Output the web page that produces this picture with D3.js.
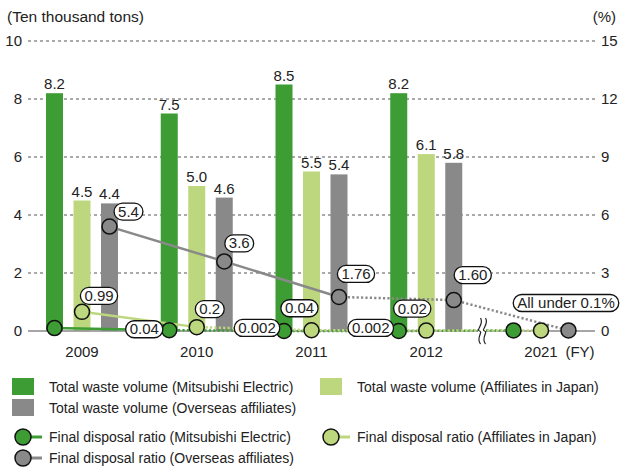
<!DOCTYPE html>
<html>
<head>
<meta charset="utf-8">
<script src="https://cdn.jsdelivr.net/npm/d3@7"></script>
<style>
  body { margin: 0; background: #fff; }
  svg text { font-family: "Liberation Sans", Arial, sans-serif; fill: #222; }
</style>
</head>
<body>
<svg id="chart" width="621" height="469"></svg>
<script>
// Fiscal years (2021 shown after an axis break, ratios only)
const years = ["2009", "2010", "2011", "2012", "2021"];
const barYears = ["2009", "2010", "2011", "2012"];

// Total waste volume (ten thousand tons)
const wasteME = [8.2, 7.5, 8.5, 8.2];
const wasteJP = [4.5, 5.0, 5.5, 6.1];
const wasteOS = [4.4, 4.6, 5.4, 5.8];

// Final disposal ratio (%)
const ratioME = [0.15, 0.04, 0.002, 0.002, 0.03];
const ratioJP = [0.99, 0.2, 0.04, 0.02, 0.03];
const ratioOS = [5.4, 3.6, 1.76, 1.60, 0.03];
const ratioLabelsME = [null, "0.04", "0.002", "0.002", null];
const ratioLabelsJP = ["0.99", "0.2", "0.04", "0.02", null];
const ratioLabelsOS = ["5.4", "3.6", "1.76", "1.60", null];

const leftTicks = [0, 2, 4, 6, 8, 10];
const rightTicks = [0, 3, 6, 9, 12, 15];

const C_ME = "#3d9c34", C_JP = "#bdd77e", C_OS = "#898989";

const svg = d3.select("#chart");
const x = d3.scalePoint().domain(years).range([82, 541]);
const yL = d3.scaleLinear().domain([0, 10]).range([331, 41]);
const yR = d3.scaleLinear().domain([0, 15]).range([331, 41]);
const off = { ME: -27.5, JP: 0, OS: 27.5 };
const barW = 17;
const plotL = 28, plotR = 597;

// Unit captions
svg.append("text").attr("x", 7).attr("y", 22).attr("font-size", 15.5).text("(Ten thousand tons)");
svg.append("text").attr("x", 616).attr("y", 22).attr("text-anchor", "end").attr("font-size", 15).text("(%)");

// Gridlines and tick labels
const grid = svg.append("g");
leftTicks.forEach((t, i) => {
  if (t !== 0) {
    grid.append("line").attr("x1", plotL).attr("x2", plotR)
      .attr("y1", yL(t)).attr("y2", yL(t))
      .attr("stroke", "#555").attr("stroke-width", 1).attr("stroke-dasharray", "3,3");
  }
  grid.append("text").attr("x", 22).attr("y", yL(t) + 5).attr("text-anchor", "end")
    .attr("font-size", 15).text(t);
  grid.append("text").attr("x", 601).attr("y", yR(rightTicks[i]) + 5)
    .attr("font-size", 15).text(rightTicks[i]);
});

// Bars
const series = [
  { key: "ME", vals: wasteME, color: C_ME },
  { key: "JP", vals: wasteJP, color: C_JP },
  { key: "OS", vals: wasteOS, color: C_OS }
];
series.forEach(s => {
  const g = svg.append("g");
  g.selectAll("rect").data(barYears).join("rect")
    .attr("x", (d) => x(d) + off[s.key] - barW / 2)
    .attr("y", (d, i) => yL(s.vals[i]))
    .attr("width", barW)
    .attr("height", (d, i) => yL(0) - yL(s.vals[i]))
    .attr("fill", s.color);
  g.selectAll("text").data(barYears).join("text")
    .attr("x", (d) => x(d) + off[s.key])
    .attr("y", (d, i) => yL(s.vals[i]) - 4)
    .attr("text-anchor", "middle").attr("font-size", 15)
    .text((d, i) => s.vals[i].toFixed(1));
});

// Zero baseline
svg.append("line").attr("x1", plotL).attr("x2", 595).attr("y1", yL(0)).attr("y2", yL(0))
  .attr("stroke", "#888").attr("stroke-width", 1.5);

// Ratio lines: solid for the earlier segments, dotted afterwards
function pt(key, vals, i) { return [x(years[i]) + off[key], yR(vals[i])]; }
function seg(key, vals, i0, i1, color, dotted, width) {
  const line = d3.line();
  const pts = d3.range(i0, i1 + 1).map(i => pt(key, vals, i));
  svg.append("path").attr("d", line(pts)).attr("fill", "none")
    .attr("stroke", color).attr("stroke-width", width)
    .attr("stroke-dasharray", dotted ? "2.2,2.2" : null);
}
seg("ME", ratioME, 0, 1, C_ME, false, 2.5);
seg("ME", ratioME, 1, 4, C_ME, true, 2.5);
seg("JP", ratioJP, 0, 1, C_JP, false, 2.5);
seg("JP", ratioJP, 1, 4, C_JP, true, 2.5);
seg("OS", ratioOS, 0, 2, C_OS, false, 2.5);
seg("OS", ratioOS, 2, 4, C_OS, true, 2.5);

// Axis break between 2012 and 2021
const bx = 482;
const brk = svg.append("g");
brk.append("rect").attr("x", bx - 4).attr("y", 318).attr("width", 8).attr("height", 26).attr("fill", "#fff");
[-2.5, 2.5].forEach(dx => {
  brk.append("path")
    .attr("d", `M${bx + dx + 1},318 C${bx + dx + 5},324 ${bx + dx - 4},330 ${bx + dx},331 C${bx + dx + 4},332 ${bx + dx - 4},338 ${bx + dx + 1},344`)
    .attr("fill", "none").attr("stroke", "#222").attr("stroke-width", 1.2);
});

// Points
const pointSeries = [
  { key: "ME", vals: ratioME, color: C_ME },
  { key: "JP", vals: ratioJP, color: C_JP },
  { key: "OS", vals: ratioOS, color: C_OS }
];
pointSeries.forEach(s => {
  svg.append("g").selectAll("circle").data(years).join("circle")
    .attr("cx", (d, i) => pt(s.key, s.vals, i)[0])
    .attr("cy", (d, i) => pt(s.key, s.vals, i)[1])
    .attr("r", 7.5).attr("fill", s.color).attr("stroke", "#111").attr("stroke-width", 1.5);
});

// Rounded value callouts, positioned relative to their points
function callout(cx, cy, txt) {
  const g = svg.append("g");
  const t = g.append("text").attr("x", cx).attr("y", cy + 5).attr("text-anchor", "middle")
    .attr("font-size", 15).text(txt);
  const w = t.node().getComputedTextLength() + 8;
  g.insert("rect", "text").attr("x", cx - w / 2).attr("y", cy - 8.5).attr("width", w).attr("height", 17)
    .attr("rx", 8.5).attr("fill", "#fff").attr("stroke", "#111").attr("stroke-width", 1.3);
}
const calloutOffsets = {
  ME: [null, [-25, -1], [-27, -3], [-28, -3], null],
  JP: [[17, -16], [13, -18], [-12, -22], [-14, -22], null],
  OS: [[19, -15], [15, -18], [17, -23], [19, -25], null]
};
[["ME", ratioME, ratioLabelsME], ["JP", ratioJP, ratioLabelsJP], ["OS", ratioOS, ratioLabelsOS]]
  .forEach(([key, vals, labels]) => {
    labels.forEach((lab, i) => {
      if (lab == null) return;
      const [px, py] = pt(key, vals, i);
      const o = calloutOffsets[key][i];
      callout(px + o[0], py + o[1], lab);
    });
  });
callout(x("2021") + 25, 303, "All under 0.1%");

// Category labels
svg.append("g").selectAll("text").data(years).join("text")
  .attr("x", d => x(d)).attr("y", 357).attr("text-anchor", "middle").attr("font-size", 15)
  .text(d => d);
svg.append("text").attr("x", 580).attr("y", 357).attr("text-anchor", "middle").attr("font-size", 15).text("(FY)");

// Legend
const legend = svg.append("g");
const sq = [
  { x: 12, y: 387, color: C_ME, label: "Total waste volume (Mitsubishi Electric)" },
  { x: 320, y: 387, color: C_JP, label: "Total waste volume (Affiliates in Japan)" },
  { x: 12, y: 408, color: C_OS, label: "Total waste volume (Overseas affiliates)" }
];
sq.forEach(d => {
  legend.append("rect").attr("x", d.x).attr("y", d.y - 9).attr("width", 22).attr("height", 17).attr("fill", d.color);
  legend.append("text").attr("x", d.x + 37).attr("y", d.y + 5).attr("font-size", 14).text(d.label);
});
const ln = [
  { x: 12, y: 437, color: C_ME, label: "Final disposal ratio (Mitsubishi Electric)" },
  { x: 320, y: 437, color: C_JP, label: "Final disposal ratio (Affiliates in Japan)" },
  { x: 12, y: 458, color: C_OS, label: "Final disposal ratio (Overseas affiliates)" }
];
ln.forEach(d => {
  legend.append("line").attr("x1", d.x + 11).attr("x2", d.x + 30).attr("y1", d.y).attr("y2", d.y)
    .attr("stroke", d.color).attr("stroke-width", 3);
  legend.append("circle").attr("cx", d.x + 11).attr("cy", d.y).attr("r", 8)
    .attr("fill", d.color).attr("stroke", "#111").attr("stroke-width", 1.5);
  legend.append("text").attr("x", d.x + 37).attr("y", d.y + 5).attr("font-size", 14).text(d.label);
});
</script>
</body>
</html>
